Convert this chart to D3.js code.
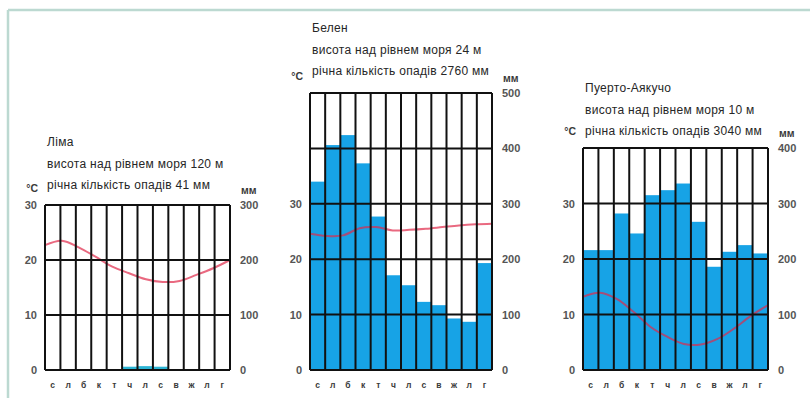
<!DOCTYPE html>
<html>
<head>
<meta charset="utf-8">
<script src="https://cdnjs.cloudflare.com/ajax/libs/d3/7.8.5/d3.min.js"></script>
<style>
  body { margin: 0; background: #fff; }
  svg { display: block; }
  .title { font-family: Arial, "Liberation Sans", sans-serif; font-size: 12px; letter-spacing: 0.3px; fill: #262626; }
  .axis text { font-family: Arial, "Liberation Sans", sans-serif; font-size: 11px; fill: #555; font-weight: bold; }
  .axis.month text { font-size: 8.5px; fill: #3a3a3a; }
  .unit { font-family: Arial, "Liberation Sans", sans-serif; font-size: 10.5px; fill: #3a3a3a; font-weight: bold; }
</style>
</head>
<body>
<div id="chart-area"></div>
<script>
// month initials (Ukrainian)
var months = ["с", "л", "б", "к", "т", "ч", "л", "с", "в", "ж", "л", "г"];
var tempTicks = [0, 10, 20, 30];

// Lima
var limaTitle = ["Ліма", "висота над рівнем моря 120 м", "річна кількість опадів 41 мм"];
var limaTemp = [22.7, 23.5, 22.3, 20.6, 18.8, 17.6, 16.5, 16.0, 16.2, 17.3, 18.5, 20.0];
var limaPrecip = [0, 0, 0, 0, 0, 6, 7, 6, 0, 0, 0, 0];

// Belen
var belenTitle = ["Белен", "висота над рівнем моря 24 м", "річна кількість опадів 2760 мм"];
var belenTemp = [24.6, 24.2, 24.3, 25.6, 25.8, 25.2, 25.3, 25.5, 25.8, 26.1, 26.3, 26.4];
var belenPrecip = [340, 406, 424, 373, 277, 171, 153, 123, 117, 93, 87, 193];

// Puerto Ayacucho
var puertoTitle = ["Пуерто-Аякучо", "висота над рівнем моря 10 м", "річна кількість опадів 3040 мм"];
var puertoTemp = [13.2, 13.9, 12.8, 10.5, 7.8, 6.0, 4.7, 4.6, 5.6, 7.5, 9.8, 11.7];
var puertoPrecip = [216, 216, 282, 246, 315, 324, 336, 267, 186, 213, 225, 210];

var W = 810, H = 398;

var svg = d3.select("#chart-area").append("svg")
  .attr("width", W)
  .attr("height", H);

// light frame of the page
svg.append("line")
  .attr("x1", 8).attr("x2", W).attr("y1", 10).attr("y2", 10)
  .attr("stroke", "#bcd9d1").attr("stroke-width", 2.5);
svg.append("line")
  .attr("x1", 8).attr("x2", 8).attr("y1", 10).attr("y2", H)
  .attr("stroke", "#bcd9d1").attr("stroke-width", 2.5);

Climograph = function(_svg, _title, _temp, _precip, _config) {
  this.svg = _svg;
  this.title = _title;
  this.temp = _temp;
  this.precip = _precip;
  this.config = _config;

  this.initVis();
}

Climograph.prototype.initVis = function() {
  var vis = this;
  var c = vis.config;

  vis.g = vis.svg.append("g");

  // scales
  vis.x = d3.scaleBand()
    .domain(d3.range(12))
    .range([c.left, c.right])
    .padding(0);

  vis.xp = d3.scalePoint()
    .domain(d3.range(12))
    .range([c.left, c.right]);

  vis.yMm = d3.scaleLinear()
    .domain([0, c.maxMm])
    .range([c.bottom, c.top]);

  vis.yT = d3.scaleLinear()
    .domain([0, c.maxMm / 10])
    .range([c.bottom, c.top]);

  // precipitation bars
  vis.g.selectAll("rect.bar")
    .data(vis.precip)
    .enter()
    .append("rect")
    .attr("class", "bar")
    .attr("fill", c.barColor)
    .attr("x", function(d, i) { return vis.x(i); })
    .attr("width", vis.x.bandwidth())
    .attr("y", function(d) { return vis.yMm(d); })
    .attr("height", function(d) { return c.bottom - vis.yMm(d); });

  // temperature curve
  var line = d3.line()
    .x(function(d, i) { return vis.xp(i); })
    .y(function(d) { return vis.yT(d); })
    .curve(d3.curveCatmullRom);

  vis.g.append("path")
    .datum(vis.temp)
    .attr("fill", "none")
    .attr("stroke", "#e0294a")
    .attr("stroke-opacity", 0.7)
    .attr("stroke-width", 2)
    .attr("d", line);

  // grid
  vis.g.selectAll("line.hgrid")
    .data(vis.yMm.ticks(c.maxMm / 100))
    .enter()
    .append("line")
    .attr("class", "hgrid")
    .attr("x1", c.left).attr("x2", c.right)
    .attr("y1", function(d) { return vis.yMm(d); })
    .attr("y2", function(d) { return vis.yMm(d); })
    .attr("stroke", "#111")
    .attr("stroke-width", 2);

  vis.g.selectAll("line.vgrid")
    .data(d3.range(13))
    .enter()
    .append("line")
    .attr("class", "vgrid")
    .attr("x1", function(d) { return c.left + d * vis.x.bandwidth(); })
    .attr("x2", function(d) { return c.left + d * vis.x.bandwidth(); })
    .attr("y1", c.top).attr("y2", c.bottom)
    .attr("stroke", "#111")
    .attr("stroke-width", 2);

  // axes
  var leftAxis = d3.axisLeft(vis.yT).tickValues(tempTicks).tickSize(0).tickPadding(8);
  var rightAxis = d3.axisRight(vis.yMm).ticks(c.maxMm / 100).tickSize(0).tickPadding(10);
  var bottomAxis = d3.axisBottom(vis.x).tickSize(0).tickPadding(12)
    .tickFormat(function(i) { return months[i]; });

  vis.g.append("g").attr("class", "axis")
    .attr("transform", "translate(" + c.left + ",0)")
    .call(leftAxis)
    .call(function(g) { g.select(".domain").remove(); });

  vis.g.append("g").attr("class", "axis")
    .attr("transform", "translate(" + c.right + ",0)")
    .call(rightAxis)
    .call(function(g) { g.select(".domain").remove(); });

  vis.g.append("g").attr("class", "axis month")
    .attr("transform", "translate(0," + c.bottom + ")")
    .call(bottomAxis)
    .call(function(g) { g.select(".domain").remove(); });

  // units
  vis.g.append("text").attr("class", "unit")
    .attr("x", c.left - 7).attr("y", c.top - 17)
    .attr("dy", "0.35em")
    .attr("text-anchor", "end")
    .text("°C");

  vis.g.append("text").attr("class", "unit")
    .attr("x", c.right + 11).attr("y", c.top - 15)
    .attr("dy", "0.35em")
    .text("мм");

  // station caption
  vis.g.selectAll("text.title")
    .data(vis.title)
    .enter()
    .append("text")
    .attr("class", "title")
    .attr("x", c.left + 2)
    .attr("y", function(d, i) { return c.titleY + i * 21.5; })
    .attr("dy", "0.35em")
    .text(function(d) { return d; });
};

var lima = new Climograph(svg, limaTitle, limaTemp, limaPrecip,
  { left: 45, right: 230, top: 205, bottom: 370, maxMm: 300, titleY: 142, barColor: "#2bb4d4" });
var belen = new Climograph(svg, belenTitle, belenTemp, belenPrecip,
  { left: 310, right: 492, top: 93, bottom: 370, maxMm: 500, titleY: 28, barColor: "#17a3e6" });
var puerto = new Climograph(svg, puertoTitle, puertoTemp, puertoPrecip,
  { left: 583, right: 768, top: 148, bottom: 370, maxMm: 400, titleY: 88, barColor: "#17a3e6" });
</script>
</body>
</html>
